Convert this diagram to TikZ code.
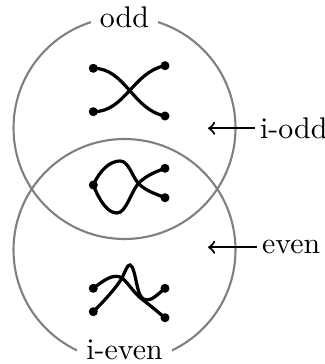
\documentclass[tikz,border=0pt]{standalone}
\begin{document}
\begin{tikzpicture}[x=0.3546pt,y=-0.3546pt,
  every node/.style={font=\fontsize{10.6}{12.7}\selectfont},
  ring/.style={draw=gray,line width=0.75pt},
  strand/.style={line width=1.15pt,line cap=round},
  dot/.style={circle,fill=black,inner sep=0pt,minimum size=3.2pt},
  tag/.style={fill=white,inner sep=3.2pt},
  sidetag/.style={inner sep=1.6pt,anchor=west},
  pointer/.style={line width=0.75pt,<-}]
\useasboundingbox (0,0) rectangle (325,364);
% circles
\coordinate (cu) at (124.5,128);
\coordinate (cl) at (124.5,250);
\draw[ring] (cu) circle (111);
\draw[ring] (cl) circle (111);
\node[tag] (odd) at (124.5,17.2) {odd};
\node[tag] (ieven) at (124.5,350.3) {i-even};
% side labels
\node[sidetag] (iodd) at (255,128.3) {i-odd};
\node[sidetag] (even) at (257,247.3) {even};
\coordinate (t1) at (208,128.3);
\coordinate (t2) at (208,247.3);
\draw[pointer] (t1) -- (iodd.west);
\draw[pointer] (t2) -- (even.west);
% top braid
\node[dot] (a1) at (93.3,68.3) {};
\node[dot] (a2) at (93.3,111.7) {};
\node[dot] (a3) at (165,65.7) {};
\node[dot] (a4) at (165,116) {};
\draw[strand] (a1.center) .. controls (125,68) and (133,110) .. (a4.center);
\draw[strand] (a2.center) .. controls (125,112) and (133,72) .. (a3.center);
% middle braid
\node[dot] (b1) at (93.3,185) {};
\node[dot] (b2) at (165,168.3) {};
\node[dot] (b3) at (165,197.7) {};
\draw[strand] (b1.center) .. controls (100,170) and (110,161) .. (120,161)
  .. controls (129,161) and (132,177) .. (139,184)
  .. controls (146,191) and (156,194) .. (b3.center);
\draw[strand] (b1.center) .. controls (100,202) and (108,213) .. (117,213)
  .. controls (126,213) and (131,192) .. (138,184)
  .. controls (145,176) and (155,172) .. (b2.center);
% bottom braid
\node[dot] (d1) at (93.3,288.3) {};
\node[dot] (d2) at (93.3,311.7) {};
\node[dot] (d3) at (165,288.3) {};
\node[dot] (d4) at (165,317.7) {};
\draw[strand] (d2.center) .. controls (105,300) and (116,288) .. (122,278)
  .. controls (126,270) and (127,265) .. (130,265)
  .. controls (133,265) and (135,276) .. (137,285)
  .. controls (139,294) and (141,300) .. (147,300)
  .. controls (153,300) and (159,293) .. (d3.center);
\draw[strand] (d1.center) .. controls (103,281) and (112,274) .. (120,277)
  .. controls (127,280) and (133,293) .. (143,300)
  .. controls (151,306) and (159,313) .. (d4.center);
\end{tikzpicture}
\end{document}
